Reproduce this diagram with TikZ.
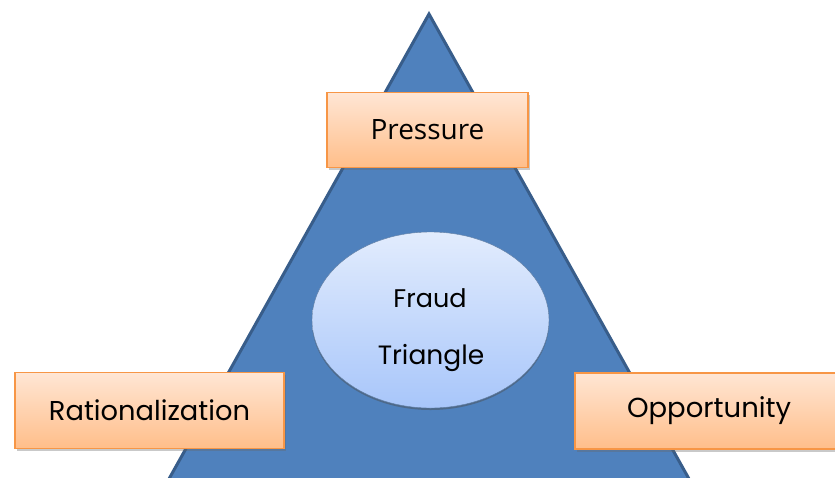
\documentclass[tikz,border=0pt]{standalone}
\usepackage{fontspec}
\setmainfont{Open Sans}
\newfontfamily\geofont{Poppins}
\usetikzlibrary{shadows,shapes.geometric}
\definecolor{triblue}{HTML}{4F81BD}
\definecolor{triedge}{HTML}{385D8A}
\definecolor{boxtop}{HTML}{FFE6D4}
\definecolor{boxbot}{HTML}{FFBE8A}
\definecolor{boxedge}{HTML}{F79646}
\definecolor{elltop}{HTML}{E2ECFD}
\definecolor{ellbot}{HTML}{A8C6FA}
\tikzset{
  labelbox/.style={draw=boxedge, line width=1.3pt, top color=boxtop, bottom color=boxbot,
    drop shadow={shadow xshift=1.5pt, shadow yshift=-2.5pt, opacity=0.35, fill=black!60}},
}
\begin{document}
\begin{tikzpicture}[x=1pt,y=-1pt]
\useasboundingbox (0,0) rectangle (835,477);
\clip (0,0) rectangle (835,477);
\fill[white] (0,0) rectangle (835,477);
% triangle
\coordinate (apex) at (429,14);
\coordinate (bl) at (160,495);
\coordinate (br) at (698,495);
\draw[triedge, fill=triblue, line width=3pt, line join=miter] (bl) -- (apex) -- (br);
% ellipse
\node[ellipse, minimum width=237pt, minimum height=176pt, inner sep=0pt,
  top color=elltop, bottom color=ellbot, draw=triedge!80, line width=0.4pt,
  drop shadow={shadow xshift=0pt, shadow yshift=-2pt, opacity=0.45, fill=black!70}]
  (ell) at (430.5,320) {};
\node[font=\geofont\fontsize{25.5}{30}\selectfont] (fraud) at (430,298) {Fraud};
\node[font=\geofont\fontsize{26.5}{30}\selectfont] (tri) at (431,358) {Triangle};
% boxes
\node[labelbox, minimum width=201pt, minimum height=75pt, inner sep=0pt,
  font=\fontsize{28}{32}\selectfont] (pressure) at (427.5,130) {Pressure};
\node[labelbox, minimum width=269pt, minimum height=76pt, inner sep=0pt,
  font=\geofont\fontsize{27.3}{30}\selectfont] (rational) at (149.5,410.5) {Rationalization};
\node[labelbox, minimum width=280pt, minimum height=76pt, inner sep=0pt,
  font=\geofont\fontsize{27.5}{30}\selectfont, text width=260pt, align=left] (opp) at (715,411) {\hspace*{42pt}Opportunity};
\end{tikzpicture}
\end{document}
